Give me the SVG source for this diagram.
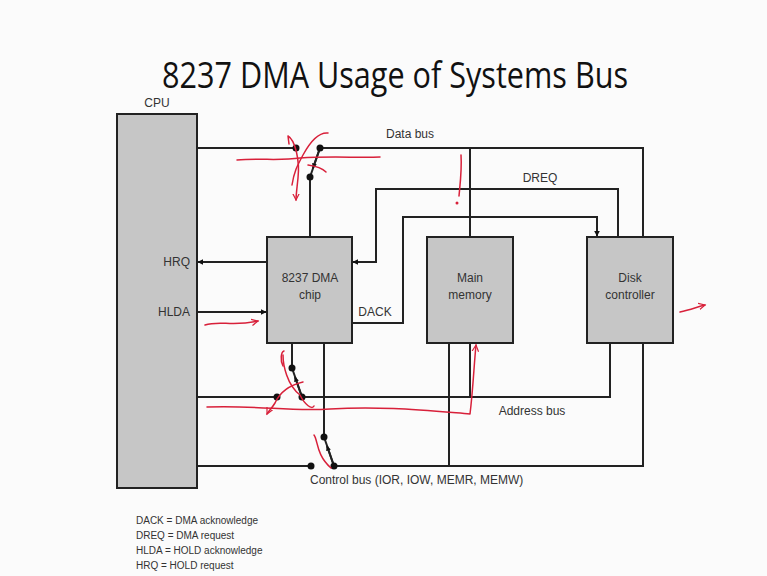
<svg xmlns="http://www.w3.org/2000/svg" width="767" height="576" viewBox="0 0 767 576">
<defs>
<style>
.box{fill:#c6c6c6;stroke:#222;stroke-width:2}
.ln{fill:none;stroke:#222;stroke-width:2}
.t{font-family:"Liberation Sans",Arial,sans-serif;font-size:12px;fill:#333}
.lg{font-family:"Liberation Sans",Arial,sans-serif;font-size:10px;fill:#333}
.red{fill:none;stroke:#d8203a;stroke-width:1.5;stroke-linecap:round;stroke-linejoin:round}
.dot{fill:#111}
</style>
<marker id="ah" viewBox="0 0 10 10" refX="9" refY="5" markerWidth="6" markerHeight="6" orient="auto" markerUnits="userSpaceOnUse">
<path d="M0,0 L10,5 L0,10 z" fill="#111"/>
</marker>
<marker id="ahs" viewBox="0 0 10 10" refX="9" refY="5" markerWidth="5" markerHeight="5" orient="auto" markerUnits="userSpaceOnUse">
<path d="M0,0 L10,5 L0,10 z" fill="#111"/>
</marker>
<marker id="rh" viewBox="0 0 10 10" refX="8" refY="5" markerWidth="8" markerHeight="8" orient="auto" markerUnits="userSpaceOnUse">
<path d="M0,1 L8,5 L0,9" fill="none" stroke="#d8203a" stroke-width="1.5"/>
</marker>
</defs>
<rect width="767" height="576" fill="#fbfbfb"/>
<text x="395" y="88" text-anchor="middle" font-family="'Open Sans','Liberation Sans',sans-serif" font-size="36" fill="#111" textLength="466" lengthAdjust="spacingAndGlyphs">8237 DMA Usage of Systems Bus</text>

<g id="connectors">
<!-- data bus -->
<path class="ln" d="M197,148 H296"/>
<path class="ln" d="M320,148 H643 V237"/>
<path class="ln" d="M470,148 V237"/>
<path class="ln" d="M310,177 V237"/>
<path class="ln" d="M310,177 L320,148" marker-mid="url(#ahs)"/>
<path class="ln" d="M320,148 L313,168" marker-end="url(#ahs)"/>
<!-- DREQ -->
<path class="ln" d="M618,237 V189 H376 V262 H353" marker-end="url(#ah)"/>
<!-- DACK -->
<path class="ln" d="M352,323 H403 V217 H597 V236" marker-end="url(#ah)"/>
<!-- HRQ / HLDA -->
<path class="ln" d="M267,262 H198" marker-end="url(#ah)"/>
<path class="ln" d="M197,312 H266" marker-end="url(#ah)"/>
<!-- address bus -->
<path class="ln" d="M197,397 H277"/>
<path class="ln" d="M302,397 H610 V343"/>
<path class="ln" d="M470,343 V397"/>
<path class="ln" d="M292,343 V368"/>
<path class="ln" d="M302,397 L292,368"/>
<path class="ln" d="M302,397 L295,377" marker-end="url(#ahs)"/>
<!-- control bus -->
<path class="ln" d="M197,466 H311"/>
<path class="ln" d="M334,466 H643 V343"/>
<path class="ln" d="M449,343 V466"/>
<path class="ln" d="M324,343 V437"/>
<path class="ln" d="M334,466 L324,437"/>
<path class="ln" d="M334,466 L327,446" marker-end="url(#ahs)"/>
<!-- switch contacts -->
<circle class="dot" cx="296" cy="148" r="3.5"/>
<circle class="dot" cx="320" cy="148" r="3.5"/>
<circle class="dot" cx="310" cy="177" r="3.5"/>
<circle class="dot" cx="292" cy="368" r="3.5"/>
<circle class="dot" cx="277" cy="397" r="3.5"/>
<circle class="dot" cx="302" cy="397" r="3.5"/>
<circle class="dot" cx="324" cy="437" r="3.5"/>
<circle class="dot" cx="311" cy="466" r="3.5"/>
<circle class="dot" cx="334" cy="466" r="3.5"/>
</g>

<g id="cpu">
<rect class="box" x="117" y="114" width="80" height="374"/>
<text class="t" x="157" y="107" text-anchor="middle">CPU</text>
<text class="t" x="190" y="266" text-anchor="end">HRQ</text>
<text class="t" x="190" y="316" text-anchor="end">HLDA</text>
</g>
<g id="dma">
<rect class="box" x="267" y="237" width="85" height="106"/>
<text class="t" x="310" y="282" text-anchor="middle">8237 DMA</text>
<text class="t" x="310" y="299" text-anchor="middle">chip</text>
</g>
<g id="memory">
<rect class="box" x="427" y="237" width="86" height="106"/>
<text class="t" x="470" y="282" text-anchor="middle">Main</text>
<text class="t" x="470" y="299" text-anchor="middle">memory</text>
</g>
<g id="disk">
<rect class="box" x="587" y="237" width="86" height="106"/>
<text class="t" x="630" y="282" text-anchor="middle">Disk</text>
<text class="t" x="630" y="299" text-anchor="middle">controller</text>
</g>

<g id="labels">
<text class="t" x="410" y="138" text-anchor="middle">Data bus</text>
<text class="t" x="540" y="182" text-anchor="middle">DREQ</text>
<text class="t" x="375" y="316" text-anchor="middle">DACK</text>
<text class="t" x="532" y="415" text-anchor="middle">Address bus</text>
<text class="t" x="310" y="484">Control bus (IOR, IOW, MEMR, MEMW)</text>
</g>

<g id="legend">
<text class="lg" x="136" y="524">DACK = DMA acknowledge</text>
<text class="lg" x="136" y="539">DREQ = DMA request</text>
<text class="lg" x="136" y="554">HLDA = HOLD acknowledge</text>
<text class="lg" x="136" y="569">HRQ = HOLD request</text>
</g>

<g id="annotations">
<path class="red" d="M237,160 C260,158 280,161 300,158 C330,156 360,158 380,157"/>
<path class="red" d="M289,144 L288,136 C295,140 300,160 298,178 C297,188 296,195 296,200" marker-end="url(#rh)"/>
<path class="red" d="M328,133 C318,132 310,142 303,155 C297,166 294,172 292,185"/>
<path class="red" d="M308,165 C315,166 322,168 326,172"/>
<path class="red" d="M461,155 C462,170 460,185 459,196"/>
<circle cx="457" cy="203" r="1.5" fill="#d8203a"/>
<path class="red" d="M205,325 C220,320 232,327 258,321" marker-end="url(#rh)"/>
<path class="red" d="M207,407 C260,405 290,412 330,409 C380,406 420,410 470,414 C473,390 474,365 476,345" marker-end="url(#rh)"/>
<path class="red" d="M283,366 C280,360 281,352 284,351"/>
<path class="red" d="M283,355 C283,365 287,385 300,395 C305,405 312,410 314,406"/>
<path class="red" d="M303,382 C290,385 280,392 275,403 C272,408 268,412 267,414" marker-end="url(#rh)"/>
<path class="red" d="M314,435 C318,440 316,455 331,468"/>
<path class="red" d="M680,312 C690,310 697,307 705,305" marker-end="url(#rh)"/>
</g>
</svg>
